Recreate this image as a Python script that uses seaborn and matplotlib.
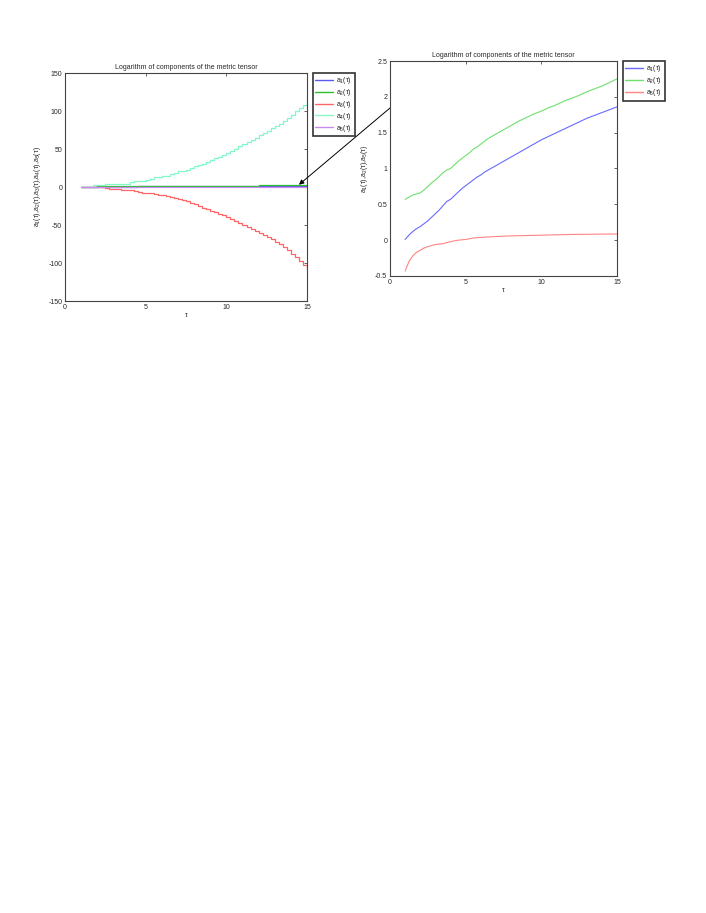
import numpy as np
import pandas as pd
import matplotlib
matplotlib.use("Agg")
import matplotlib.pyplot as plt
import seaborn as sns

# ---------------------------
# Data
# ---------------------------
tau = np.arange(1, 15.01, 0.25)

a1 = [0.01, 0.07, 0.12, 0.16, 0.19, 0.23, 0.27, 0.32, 0.37, 0.42, 0.48, 0.54, 0.57, 0.62, 0.67,
      0.72, 0.76, 0.80, 0.84, 0.88, 0.91, 0.95, 0.98, 1.01, 1.04, 1.07, 1.10, 1.13, 1.16, 1.19,
      1.22, 1.25, 1.28, 1.31, 1.34, 1.37, 1.40, 1.425, 1.45, 1.475, 1.50, 1.525, 1.55, 1.575,
      1.60, 1.625, 1.65, 1.675, 1.70, 1.72, 1.74, 1.76, 1.78, 1.80, 1.82, 1.84, 1.86]

a2 = [0.57, 0.60, 0.63, 0.645, 0.66, 0.70, 0.75, 0.80, 0.84, 0.89, 0.94, 0.98, 1.00, 1.05, 1.10,
      1.14, 1.18, 1.22, 1.27, 1.30, 1.34, 1.38, 1.42, 1.45, 1.48, 1.51, 1.54, 1.57, 1.60, 1.63,
      1.66, 1.685, 1.71, 1.735, 1.76, 1.78, 1.80, 1.825, 1.85, 1.87, 1.89, 1.915, 1.94, 1.96,
      1.98, 2.00, 2.02, 2.045, 2.07, 2.09, 2.11, 2.13, 2.15, 2.175, 2.20, 2.225, 2.25]

a3 = [0, 0, 0, 0, 0, -0.5, -1, -2, -2.5, -3, -3.5, -3.8, -4, -5, -6, -7.5, -8, -8.5, -9, -10,
      -11, -12, -13, -14.5, -16, -17.5, -19, -21, -23, -25, -27, -29, -31, -33, -35, -37.5,
      -40, -42.5, -45, -47.5, -50, -52.5, -55, -57.5, -60, -63, -66, -69, -72, -75.5, -79,
      -83.5, -88, -92.5, -97, -102, -108]

a4 = [0, 0, 0.5, 3, 3, 3.2, 3.4, 3.6, 3.8, 4, 4.2, 4.5, 7, 7.5, 8, 8.5, 9.5, 11, 13, 13.5,
      14, 15, 16.5, 19, 20.5, 21.5, 23, 25, 27, 28.5, 30, 32.5, 35, 37.5, 40, 42.5, 45, 47.5,
      50.5, 53.5, 56, 59, 62, 65, 68, 71, 74, 77, 80, 83.5, 87, 91, 95, 99.5, 104, 108.5, 113]

a5 = [-0.43, -0.30, -0.22, -0.17, -0.14, -0.11, -0.09, -0.075, -0.06, -0.055, -0.05, -0.035,
      -0.02, -0.01, 0.0, 0.005, 0.01, 0.02, 0.03, 0.035, 0.04, 0.042, 0.045, 0.048, 0.05,
      0.053, 0.056, 0.058, 0.06, 0.061, 0.062, 0.063, 0.065, 0.066, 0.067, 0.068, 0.07,
      0.071, 0.072, 0.074, 0.075, 0.076, 0.077, 0.078, 0.08, 0.080, 0.081, 0.081, 0.082,
      0.083, 0.083, 0.084, 0.085, 0.085, 0.085, 0.086, 0.086]

labels = [r"a$_1$($\tau$)", r"a$_2$($\tau$)", r"a$_3$($\tau$)", r"a$_4$($\tau$)", r"a$_5$($\tau$)"]
left_colors = ["#5a5af2", "#2cbf2c", "#ff6666", "#86f7c8", "#c98af0"]
right_colors = ["#6a6aff", "#6ee06e", "#ff8484"]

# long-form tables
df_all = pd.DataFrame({"tau": np.tile(tau, 5),
                       "val": np.concatenate([a1, a2, a3, a4, a5]),
                       "comp": np.repeat(labels, len(tau))})
sub = [labels[0], labels[1], labels[4]]
df_sub = df_all[df_all["comp"].isin(sub)]

# ---------------------------
# Style
# ---------------------------
sns.set_style("white")
plt.rcParams["font.family"] = ["Liberation Sans", "DejaVu Sans"]
plt.rcParams["mathtext.fontset"] = "custom"
plt.rcParams["mathtext.rm"] = "Liberation Sans"
plt.rcParams["mathtext.it"] = "Liberation Sans"
plt.rcParams["axes.unicode_minus"] = False

fs = 5
fig = plt.figure(figsize=(7.06, 9.13), dpi=100)
W, H = 706, 913
ax1 = fig.add_axes([65 / W, 1 - 301 / H, 242 / W, 228 / H])
ax2 = fig.add_axes([390 / W, 1 - 276 / H, 227 / W, 215 / H])


def matlab_axes(ax):
    for s in ax.spines.values():
        s.set_linewidth(0.8)
        s.set_color("#444444")
    ax.tick_params(direction="in", length=2.5, width=0.5, labelsize=fs,
                   top=True, right=True, pad=2)


def box_legend(ax, handles, labs, x_off):
    leg = ax.legend(handles, labs, loc="upper left", bbox_to_anchor=(1 + x_off, 1.0),
                    fontsize=fs, frameon=True, fancybox=False, edgecolor="black",
                    handlelength=2.6, borderaxespad=0, labelspacing=0.12,
                    handletextpad=0.4, borderpad=0.35)
    leg.get_frame().set_linewidth(1.2)
    return leg


# Left plot: all five components, drawn as small stairs
for lab, col in zip(labels, left_colors):
    d = df_all[df_all["comp"] == lab]
    sns.lineplot(data=d, x="tau", y="val", ax=ax1, color=col, lw=0.9,
                 drawstyle="steps-post", legend=False)
ax1.set_xlim(0, 15)
ax1.set_ylim(-150, 150)
ax1.set_xticks([0, 5, 10, 15])
ax1.set_yticks([-150, -100, -50, 0, 50, 100, 150])
ax1.set_title("Logarithm of components of the metric tensor", fontsize=fs, pad=3)
ax1.set_xlabel(r"$\tau$", fontsize=fs, labelpad=0)
ax1.set_ylabel(r"a$_1$($\tau$),a$_2$($\tau$),a$_3$($\tau$),a$_4$($\tau$),a$_5$($\tau$)",
               fontsize=fs, labelpad=4)
matlab_axes(ax1)
h1 = [plt.Line2D([], [], color=c, lw=1.0) for c in left_colors]
box_legend(ax1, h1, labels, 6 / 242)

# Right plot: zoom of the three small components
sns.lineplot(data=df_sub, x="tau", y="val", hue="comp", hue_order=sub,
             palette=right_colors, ax=ax2, lw=0.8, legend=False)
ax2.set_xlim(0, 15)
ax2.set_ylim(-0.5, 2.5)
ax2.set_xticks([0, 5, 10, 15])
ax2.set_yticks([-0.5, 0, 0.5, 1, 1.5, 2, 2.5])
ax2.set_yticklabels(["-0.5", "0", "0.5", "1", "1.5", "2", "2.5"])
ax2.set_title("Logarithm of components of the metric tensor", fontsize=fs, pad=3)
ax2.set_xlabel(r"$\tau$", fontsize=fs, labelpad=0)
ax2.set_ylabel(r"a$_1$($\tau$),a$_2$($\tau$),a$_5$($\tau$)", fontsize=fs, labelpad=4)
matlab_axes(ax2)
h2 = [plt.Line2D([], [], color=c, lw=1.0) for c in right_colors]
box_legend(ax2, h2, sub, 6 / 227)

# arrow from the zoom plot to the flat lines in the left plot
ax1.annotate("", xy=(14.5, 3), xycoords="data",
             xytext=(390 / W, 1 - 108 / H), textcoords="figure fraction",
             arrowprops=dict(arrowstyle="-|>", color="black", lw=0.7,
                             mutation_scale=7, shrinkA=0, shrinkB=0))

fig.savefig("out.png", dpi=100, facecolor="white")
